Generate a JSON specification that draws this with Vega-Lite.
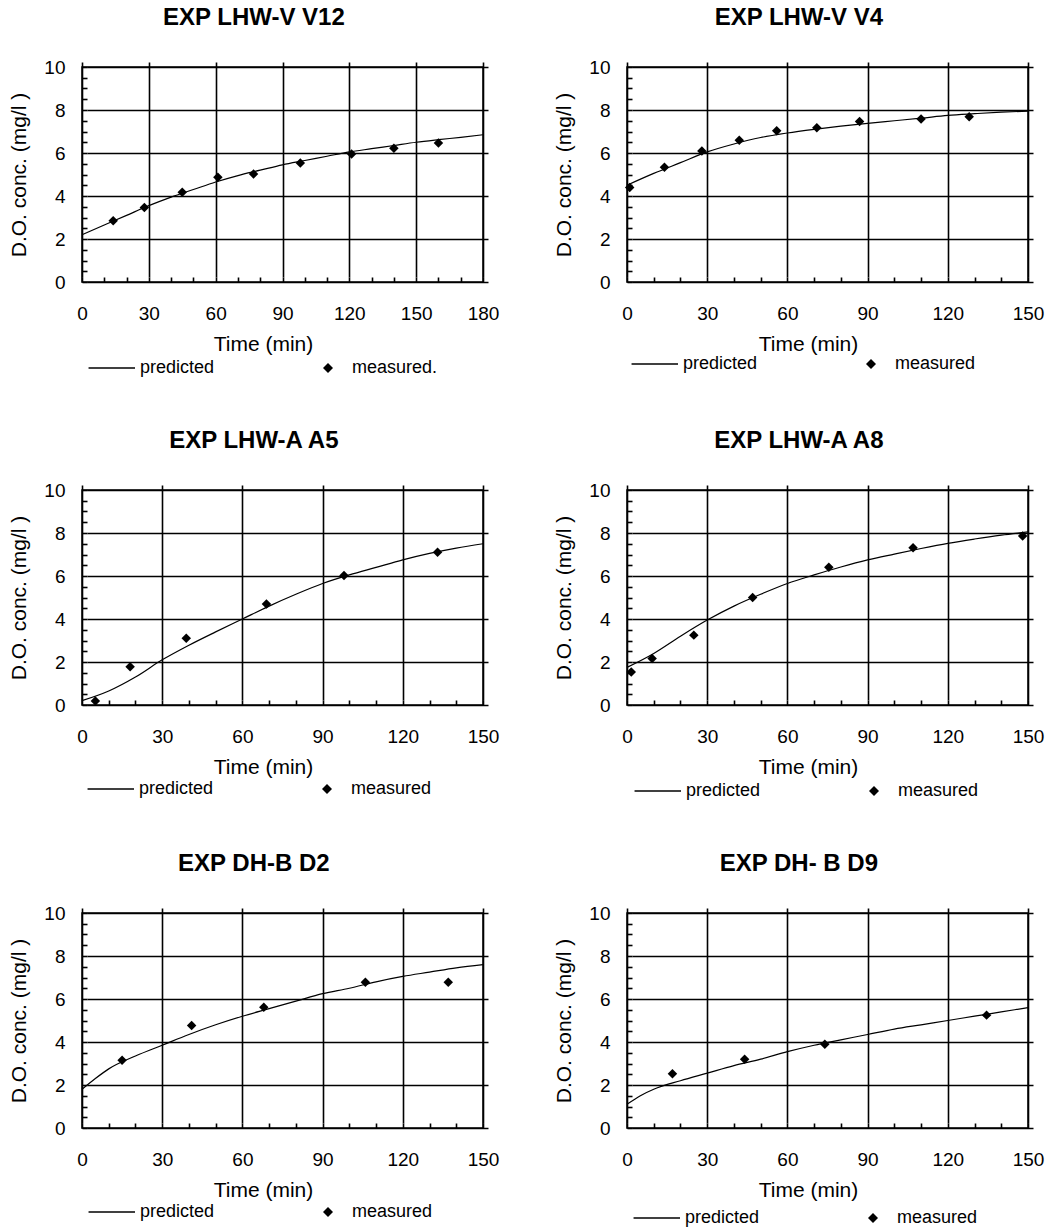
{
  "$schema": "https://vega.github.io/schema/vega-lite/v6.json",
  "background": "white",
  "padding": {"left": 8, "top": 5, "right": 5, "bottom": 5},
  "config": {
    "font": "Liberation Sans",
    "view": {"stroke": "black", "strokeWidth": 1.5},
    "axis": {"domain": false, "offset": -5, "gridColor": "black", "gridWidth": 1.6, "ticks": true, "tickColor": "black", "tickSize": 5, "tickWidth": 1.6, "tickOpacity": 1, "tickCount": 100, "labelFontSize": 19, "labelColor": "black", "titleFontSize": 21, "titleFontWeight": "normal", "titleColor": "black", "labelOverlap": false, "labelFlush": false, "labelBound": false, "grid": true},
    "axisX": {"labelExpr": "datum.value % 30 === 0 ? format(datum.value, 'd') : ''", "labelPadding": 22, "titlePadding": 10, "titleX": 181},
    "axisY": {"labelExpr": "datum.value % 2 === 0 ? format(datum.value, 'd') : ''", "labelPadding": 17, "titlePadding": 14},
    "title": {"fontSize": 24, "fontWeight": "bold", "anchor": "middle", "frame": "bounds", "offset": 28, "color": "black"},
    "legend": {"labelFontSize": 18, "labelColor": "black", "symbolStrokeColor": "black", "symbolFillColor": "black", "symbolStrokeWidth": 1, "columnPadding": 104, "labelOffset": 15}
  },
  "resolve": {"scale": {"shape": "independent"}, "legend": {"shape": "independent"}},
  "spacing": 50,
  "vconcat": [
    {
      "spacing": 53,
      "resolve": {"scale": {"shape": "independent"}, "legend": {"shape": "independent"}},
      "hconcat": [
        {
          "title": "EXP LHW-V V12",
          "width": 401, "height": 215,
          "layer": [
            {
              "data": {"values": [
                {"t": 0, "y": 2.2}, {"t": 10, "y": 2.65}, {"t": 20, "y": 3.1}, {"t": 30, "y": 3.55}, {"t": 40, "y": 3.95}, {"t": 50, "y": 4.3}, {"t": 60, "y": 4.65}, {"t": 70, "y": 4.95}, {"t": 80, "y": 5.2}, {"t": 90, "y": 5.45}, {"t": 100, "y": 5.65}, {"t": 110, "y": 5.85}, {"t": 120, "y": 6.05}, {"t": 130, "y": 6.2}, {"t": 140, "y": 6.35}, {"t": 150, "y": 6.5}, {"t": 160, "y": 6.62}, {"t": 170, "y": 6.73}, {"t": 180, "y": 6.85}
              ]},
              "mark": {"type": "line", "color": "black", "strokeWidth": 1.2, "interpolate": "monotone"},
              "encoding": {
                "x": {"field": "t", "type": "quantitative", "scale": {"domain": [0, 180], "nice": false}, "axis": {"title": "Time (min)", "values": [0, 10, 20, 30, 40, 50, 60, 70, 80, 90, 100, 110, 120, 130, 140, 150, 160, 170, 180], "gridColor": {"condition": {"test": "datum.value % 30 === 0", "value": "black"}, "value": "rgba(0,0,0,0)"}}},
                "y": {"field": "y", "type": "quantitative", "scale": {"domain": [0, 10], "nice": false}, "axis": {"title": "D.O. conc. (mg/l )", "values": [0, 0.5, 1, 1.5, 2, 2.5, 3, 3.5, 4, 4.5, 5, 5.5, 6, 6.5, 7, 7.5, 8, 8.5, 9, 9.5, 10], "gridColor": {"condition": {"test": "datum.value % 2 === 0", "value": "black"}, "value": "rgba(0,0,0,0)"}}}
              }
            },
            {
              "data": {"values": [
                {"t": 14, "y": 2.85, "series": "measured."}, {"t": 28, "y": 3.47, "series": "measured."}, {"t": 45, "y": 4.17, "series": "measured."}, {"t": 61, "y": 4.87, "series": "measured."}, {"t": 77, "y": 5.02, "series": "measured."}, {"t": 98, "y": 5.53, "series": "measured."}, {"t": 121, "y": 5.95, "series": "measured."}, {"t": 140, "y": 6.22, "series": "measured."}, {"t": 160, "y": 6.47, "series": "measured."}
              ]},
              "mark": {"type": "point", "filled": true, "color": "black", "size": 90, "opacity": 1},
              "encoding": {
                "x": {"field": "t", "type": "quantitative"},
                "y": {"field": "y", "type": "quantitative"},
                "shape": {"field": "series", "type": "nominal", "scale": {"domain": ["predicted", "measured."], "range": ["M-5.49,-0.14L3.8,-0.14L3.8,0.14L-5.49,0.14Z", "diamond"]}, "legend": {"title": null, "orient": "none", "legendX": 25, "legendY": 292, "direction": "horizontal"}}
              }
            }
          ]
        },
        {
          "title": "EXP LHW-V V4",
          "width": 401, "height": 215,
          "layer": [
            {
              "data": {"values": [
                {"t": 0, "y": 4.5}, {"t": 10, "y": 5.05}, {"t": 20, "y": 5.55}, {"t": 30, "y": 6.05}, {"t": 40, "y": 6.42}, {"t": 50, "y": 6.72}, {"t": 60, "y": 6.93}, {"t": 70, "y": 7.1}, {"t": 80, "y": 7.25}, {"t": 90, "y": 7.38}, {"t": 100, "y": 7.5}, {"t": 110, "y": 7.62}, {"t": 120, "y": 7.75}, {"t": 130, "y": 7.83}, {"t": 140, "y": 7.9}, {"t": 150, "y": 7.95}
              ]},
              "mark": {"type": "line", "color": "black", "strokeWidth": 1.2, "interpolate": "monotone"},
              "encoding": {
                "x": {"field": "t", "type": "quantitative", "scale": {"domain": [0, 150], "nice": false}, "axis": {"title": "Time (min)", "values": [0, 10, 20, 30, 40, 50, 60, 70, 80, 90, 100, 110, 120, 130, 140, 150], "gridColor": {"condition": {"test": "datum.value % 30 === 0", "value": "black"}, "value": "rgba(0,0,0,0)"}}},
                "y": {"field": "y", "type": "quantitative", "scale": {"domain": [0, 10], "nice": false}, "axis": {"title": "D.O. conc. (mg/l )", "values": [0, 0.5, 1, 1.5, 2, 2.5, 3, 3.5, 4, 4.5, 5, 5.5, 6, 6.5, 7, 7.5, 8, 8.5, 9, 9.5, 10], "gridColor": {"condition": {"test": "datum.value % 2 === 0", "value": "black"}, "value": "rgba(0,0,0,0)"}}}
              }
            },
            {
              "data": {"values": [
                {"t": 1, "y": 4.4, "series": "measured"}, {"t": 14, "y": 5.34, "series": "measured"}, {"t": 28, "y": 6.09, "series": "measured"}, {"t": 42, "y": 6.59, "series": "measured"}, {"t": 56, "y": 7.03, "series": "measured"}, {"t": 71, "y": 7.17, "series": "measured"}, {"t": 87, "y": 7.46, "series": "measured"}, {"t": 110, "y": 7.58, "series": "measured"}, {"t": 128, "y": 7.69, "series": "measured"}
              ]},
              "mark": {"type": "point", "filled": true, "color": "black", "size": 90, "opacity": 1},
              "encoding": {
                "x": {"field": "t", "type": "quantitative"},
                "y": {"field": "y", "type": "quantitative"},
                "shape": {"field": "series", "type": "nominal", "scale": {"domain": ["predicted", "measured"], "range": ["M-5.49,-0.14L3.8,-0.14L3.8,0.14L-5.49,0.14Z", "diamond"]}, "legend": {"title": null, "orient": "none", "legendX": 23, "legendY": 288, "direction": "horizontal"}}
              }
            }
          ]
        }
      ]
    },
    {
      "spacing": 53,
      "resolve": {"scale": {"shape": "independent"}, "legend": {"shape": "independent"}},
      "hconcat": [
        {
          "title": "EXP LHW-A A5",
          "width": 401, "height": 215,
          "layer": [
            {
              "data": {"values": [
                {"t": 0, "y": 0.2}, {"t": 10, "y": 0.65}, {"t": 20, "y": 1.3}, {"t": 30, "y": 2.1}, {"t": 40, "y": 2.78}, {"t": 50, "y": 3.4}, {"t": 60, "y": 4.0}, {"t": 70, "y": 4.6}, {"t": 80, "y": 5.15}, {"t": 90, "y": 5.65}, {"t": 100, "y": 6.05}, {"t": 110, "y": 6.4}, {"t": 120, "y": 6.75}, {"t": 130, "y": 7.05}, {"t": 140, "y": 7.3}, {"t": 150, "y": 7.5}
              ]},
              "mark": {"type": "line", "color": "black", "strokeWidth": 1.2, "interpolate": "monotone"},
              "encoding": {
                "x": {"field": "t", "type": "quantitative", "scale": {"domain": [0, 150], "nice": false}, "axis": {"title": "Time (min)", "values": [0, 10, 20, 30, 40, 50, 60, 70, 80, 90, 100, 110, 120, 130, 140, 150], "gridColor": {"condition": {"test": "datum.value % 30 === 0", "value": "black"}, "value": "rgba(0,0,0,0)"}}},
                "y": {"field": "y", "type": "quantitative", "scale": {"domain": [0, 10], "nice": false}, "axis": {"title": "D.O. conc. (mg/l )", "values": [0, 0.5, 1, 1.5, 2, 2.5, 3, 3.5, 4, 4.5, 5, 5.5, 6, 6.5, 7, 7.5, 8, 8.5, 9, 9.5, 10], "gridColor": {"condition": {"test": "datum.value % 2 === 0", "value": "black"}, "value": "rgba(0,0,0,0)"}}}
              }
            },
            {
              "data": {"values": [
                {"t": 5, "y": 0.19, "series": "measured"}, {"t": 18, "y": 1.78, "series": "measured"}, {"t": 39, "y": 3.1, "series": "measured"}, {"t": 69, "y": 4.7, "series": "measured"}, {"t": 98, "y": 6.02, "series": "measured"}, {"t": 133, "y": 7.1, "series": "measured"}
              ]},
              "mark": {"type": "point", "filled": true, "color": "black", "size": 90, "opacity": 1},
              "encoding": {
                "x": {"field": "t", "type": "quantitative"},
                "y": {"field": "y", "type": "quantitative"},
                "shape": {"field": "series", "type": "nominal", "scale": {"domain": ["predicted", "measured"], "range": ["M-5.49,-0.14L3.8,-0.14L3.8,0.14L-5.49,0.14Z", "diamond"]}, "legend": {"title": null, "orient": "none", "legendX": 24, "legendY": 290, "direction": "horizontal"}}
              }
            }
          ]
        },
        {
          "title": "EXP LHW-A A8",
          "width": 401, "height": 215,
          "layer": [
            {
              "data": {"values": [
                {"t": 0, "y": 1.75}, {"t": 10, "y": 2.4}, {"t": 20, "y": 3.2}, {"t": 30, "y": 3.95}, {"t": 40, "y": 4.6}, {"t": 50, "y": 5.15}, {"t": 60, "y": 5.65}, {"t": 70, "y": 6.05}, {"t": 80, "y": 6.42}, {"t": 90, "y": 6.75}, {"t": 100, "y": 7.02}, {"t": 110, "y": 7.28}, {"t": 120, "y": 7.52}, {"t": 130, "y": 7.72}, {"t": 140, "y": 7.9}, {"t": 150, "y": 8.05}
              ]},
              "mark": {"type": "line", "color": "black", "strokeWidth": 1.2, "interpolate": "monotone"},
              "encoding": {
                "x": {"field": "t", "type": "quantitative", "scale": {"domain": [0, 150], "nice": false}, "axis": {"title": "Time (min)", "values": [0, 10, 20, 30, 40, 50, 60, 70, 80, 90, 100, 110, 120, 130, 140, 150], "gridColor": {"condition": {"test": "datum.value % 30 === 0", "value": "black"}, "value": "rgba(0,0,0,0)"}}},
                "y": {"field": "y", "type": "quantitative", "scale": {"domain": [0, 10], "nice": false}, "axis": {"title": "D.O. conc. (mg/l )", "values": [0, 0.5, 1, 1.5, 2, 2.5, 3, 3.5, 4, 4.5, 5, 5.5, 6, 6.5, 7, 7.5, 8, 8.5, 9, 9.5, 10], "gridColor": {"condition": {"test": "datum.value % 2 === 0", "value": "black"}, "value": "rgba(0,0,0,0)"}}}
              }
            },
            {
              "data": {"values": [
                {"t": 1.6, "y": 1.53, "series": "measured"}, {"t": 9.4, "y": 2.16, "series": "measured"}, {"t": 25, "y": 3.25, "series": "measured"}, {"t": 47, "y": 5.0, "series": "measured"}, {"t": 75.5, "y": 6.41, "series": "measured"}, {"t": 107, "y": 7.31, "series": "measured"}, {"t": 148, "y": 7.86, "series": "measured"}
              ]},
              "mark": {"type": "point", "filled": true, "color": "black", "size": 90, "opacity": 1},
              "encoding": {
                "x": {"field": "t", "type": "quantitative"},
                "y": {"field": "y", "type": "quantitative"},
                "shape": {"field": "series", "type": "nominal", "scale": {"domain": ["predicted", "measured"], "range": ["M-5.49,-0.14L3.8,-0.14L3.8,0.14L-5.49,0.14Z", "diamond"]}, "legend": {"title": null, "orient": "none", "legendX": 26, "legendY": 292, "direction": "horizontal"}}
              }
            }
          ]
        }
      ]
    },
    {
      "spacing": 53,
      "resolve": {"scale": {"shape": "independent"}, "legend": {"shape": "independent"}},
      "hconcat": [
        {
          "title": "EXP DH-B D2",
          "width": 401, "height": 215,
          "layer": [
            {
              "data": {"values": [
                {"t": 0, "y": 1.8}, {"t": 5, "y": 2.3}, {"t": 10, "y": 2.75}, {"t": 20, "y": 3.35}, {"t": 30, "y": 3.85}, {"t": 40, "y": 4.35}, {"t": 50, "y": 4.8}, {"t": 60, "y": 5.2}, {"t": 70, "y": 5.55}, {"t": 80, "y": 5.9}, {"t": 90, "y": 6.25}, {"t": 100, "y": 6.5}, {"t": 110, "y": 6.8}, {"t": 120, "y": 7.05}, {"t": 130, "y": 7.25}, {"t": 140, "y": 7.45}, {"t": 150, "y": 7.6}
              ]},
              "mark": {"type": "line", "color": "black", "strokeWidth": 1.2, "interpolate": "monotone"},
              "encoding": {
                "x": {"field": "t", "type": "quantitative", "scale": {"domain": [0, 150], "nice": false}, "axis": {"title": "Time (min)", "values": [0, 10, 20, 30, 40, 50, 60, 70, 80, 90, 100, 110, 120, 130, 140, 150], "gridColor": {"condition": {"test": "datum.value % 30 === 0", "value": "black"}, "value": "rgba(0,0,0,0)"}}},
                "y": {"field": "y", "type": "quantitative", "scale": {"domain": [0, 10], "nice": false}, "axis": {"title": "D.O. conc. (mg/l )", "values": [0, 0.5, 1, 1.5, 2, 2.5, 3, 3.5, 4, 4.5, 5, 5.5, 6, 6.5, 7, 7.5, 8, 8.5, 9, 9.5, 10], "gridColor": {"condition": {"test": "datum.value % 2 === 0", "value": "black"}, "value": "rgba(0,0,0,0)"}}}
              }
            },
            {
              "data": {"values": [
                {"t": 15, "y": 3.15, "series": "measured"}, {"t": 41, "y": 4.77, "series": "measured"}, {"t": 68, "y": 5.62, "series": "measured"}, {"t": 106, "y": 6.78, "series": "measured"}, {"t": 137, "y": 6.78, "series": "measured"}
              ]},
              "mark": {"type": "point", "filled": true, "color": "black", "size": 90, "opacity": 1},
              "encoding": {
                "x": {"field": "t", "type": "quantitative"},
                "y": {"field": "y", "type": "quantitative"},
                "shape": {"field": "series", "type": "nominal", "scale": {"domain": ["predicted", "measured"], "range": ["M-5.49,-0.14L3.8,-0.14L3.8,0.14L-5.49,0.14Z", "diamond"]}, "legend": {"title": null, "orient": "none", "legendX": 25, "legendY": 290, "direction": "horizontal"}}
              }
            }
          ]
        },
        {
          "title": "EXP DH- B D9",
          "width": 401, "height": 215,
          "layer": [
            {
              "data": {"values": [
                {"t": 0, "y": 1.1}, {"t": 5, "y": 1.5}, {"t": 10, "y": 1.8}, {"t": 20, "y": 2.2}, {"t": 30, "y": 2.55}, {"t": 40, "y": 2.9}, {"t": 50, "y": 3.2}, {"t": 60, "y": 3.55}, {"t": 70, "y": 3.85}, {"t": 80, "y": 4.1}, {"t": 90, "y": 4.35}, {"t": 100, "y": 4.6}, {"t": 110, "y": 4.8}, {"t": 120, "y": 5.0}, {"t": 130, "y": 5.2}, {"t": 140, "y": 5.4}, {"t": 150, "y": 5.6}
              ]},
              "mark": {"type": "line", "color": "black", "strokeWidth": 1.2, "interpolate": "monotone"},
              "encoding": {
                "x": {"field": "t", "type": "quantitative", "scale": {"domain": [0, 150], "nice": false}, "axis": {"title": "Time (min)", "values": [0, 10, 20, 30, 40, 50, 60, 70, 80, 90, 100, 110, 120, 130, 140, 150], "gridColor": {"condition": {"test": "datum.value % 30 === 0", "value": "black"}, "value": "rgba(0,0,0,0)"}}},
                "y": {"field": "y", "type": "quantitative", "scale": {"domain": [0, 10], "nice": false}, "axis": {"title": "D.O. conc. (mg/l )", "values": [0, 0.5, 1, 1.5, 2, 2.5, 3, 3.5, 4, 4.5, 5, 5.5, 6, 6.5, 7, 7.5, 8, 8.5, 9, 9.5, 10], "gridColor": {"condition": {"test": "datum.value % 2 === 0", "value": "black"}, "value": "rgba(0,0,0,0)"}}}
              }
            },
            {
              "data": {"values": [
                {"t": 17, "y": 2.52, "series": "measured"}, {"t": 44, "y": 3.2, "series": "measured"}, {"t": 74, "y": 3.89, "series": "measured"}, {"t": 134.5, "y": 5.25, "series": "measured"}
              ]},
              "mark": {"type": "point", "filled": true, "color": "black", "size": 90, "opacity": 1},
              "encoding": {
                "x": {"field": "t", "type": "quantitative"},
                "y": {"field": "y", "type": "quantitative"},
                "shape": {"field": "series", "type": "nominal", "scale": {"domain": ["predicted", "measured"], "range": ["M-5.49,-0.14L3.8,-0.14L3.8,0.14L-5.49,0.14Z", "diamond"]}, "legend": {"title": null, "orient": "none", "legendX": 25, "legendY": 296, "direction": "horizontal"}}
              }
            }
          ]
        }
      ]
    }
  ]
}
